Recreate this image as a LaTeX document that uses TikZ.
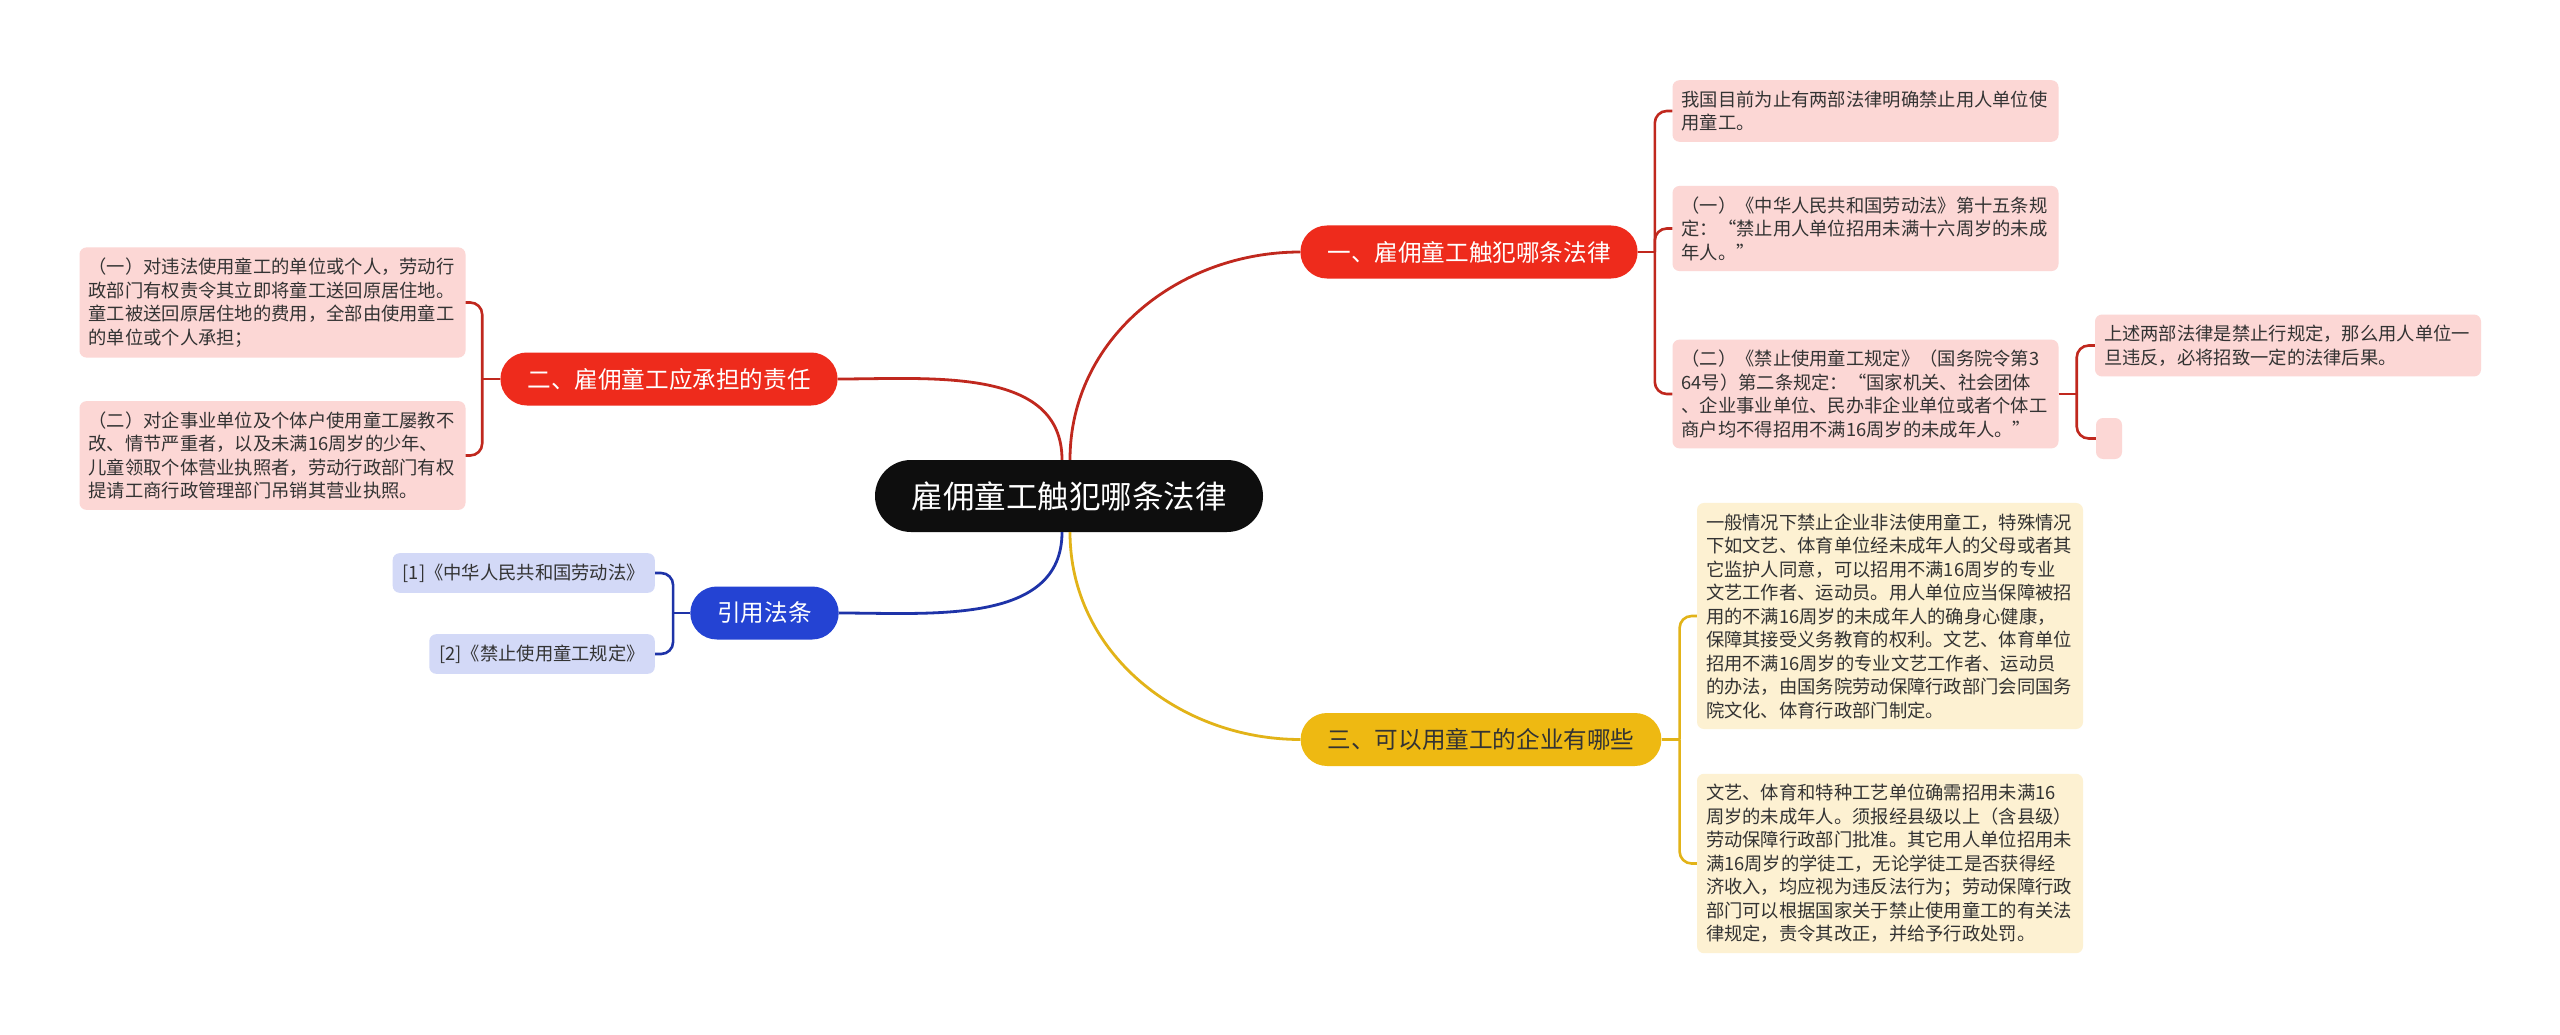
\documentclass[tikz,border=0pt]{standalone}
\usepackage{fontspec}
\setmainfont{Noto Sans CJK SC}
\definecolor{cblack}{HTML}{0E0E0E}
\definecolor{cred}{HTML}{EE2B1C}
\definecolor{credline}{HTML}{C0281E}
\definecolor{cpink}{HTML}{FCD7D5}
\definecolor{cblue}{HTML}{2443D3}
\definecolor{cblueline}{HTML}{1E33A8}
\definecolor{clav}{HTML}{D3D9F7}
\definecolor{cyellow}{HTML}{EEB912}
\definecolor{cyelline}{HTML}{E2B318}
\definecolor{ccream}{HTML}{FDF1D2}
\definecolor{ctext}{HTML}{333333}
\tikzset{
  root/.style={fill=cblack, text=white, rounded corners=36pt, minimum width=388pt, minimum height=72pt,
    font=\fontsize{31.5}{36}\selectfont},
  topic/.style={fill=#1, rounded corners=26.5pt, minimum height=53pt, inner xsep=27pt,
    font=\fontsize{23.6}{28}\selectfont},
  leaf/.style={fill=#1, rounded corners=7pt, inner xsep=10pt, inner ysep=10.5pt, text=ctext,
    font=\fontsize{18.3}{23.5}\selectfont},
  para/.style={leaf=#1, text width=368pt, inner xsep=9pt, align=left},
  link/.style={draw=#1, line width=2.8pt},
  brace/.style={draw=#1, line width=2.6pt, rounded corners=12pt},
}

\begin{document}
\begin{tikzpicture}[x=1pt, y=1pt]
  \fill[white] (0,0) rectangle (2560,-1035);
  \useasboundingbox (0,0) rectangle (2560,-1035);
  % root
  \node[root] (root) at (1069,-496) {雇佣童工触犯哪条法律};
  % branch 1
  \node[topic=cred, text=white] (b1) at (1469,-252) {一、雇佣童工触犯哪条法律};
  \node[para=cpink] (l1a) at (1865.5,-111) {我国目前为止有两部法律明确禁止用人单位使\\用童工。};
  \node[para=cpink] (l1b) at (1865.5,-228.5) {（一）《中华人民共和国劳动法》第十五条规\\定：“禁止用人单位招用未满十六周岁的未成\\年人。”};
  \node[para=cpink] (l1c) at (1865.5,-394) {（二）《禁止使用童工规定》（国务院令第3\\64号）第二条规定：“国家机关、社会团体\\、企业事业单位、民办非企业单位或者个体工\\商户均不得招用不满16周岁的未成年人。”};
  \node[para=cpink] (l1d) at (2288,-345.5) {上述两部法律是禁止行规定，那么用人单位一\\旦违反，必将招致一定的法律后果。};
  \node[leaf=cpink, minimum width=26pt, minimum height=41pt, inner sep=0pt] (l1e) at (2109,-438.5) {};
  % branch 2
  \node[topic=cred, text=white] (b2) at (669,-379) {二、雇佣童工应承担的责任};
  \node[para=cpink] (l2a) at (272.5,-302.5) {（一）对违法使用童工的单位或个人，劳动行\\政部门有权责令其立即将童工送回原居住地。\\童工被送回原居住地的费用，全部由使用童工\\的单位或个人承担；};
  \node[para=cpink] (l2b) at (272.5,-455.5) {（二）对企事业单位及个体户使用童工屡教不\\改、情节严重者，以及未满16周岁的少年、\\儿童领取个体营业执照者，劳动行政部门有权\\提请工商行政管理部门吊销其营业执照。};
  % branch 3
  \node[topic=cblue, text=white] (b3) at (764.5,-613) {引用法条};
  \node[leaf=clav, anchor=east] (l3a) at (655,-573) {[1]《中华人民共和国劳动法》};
  \node[leaf=clav, anchor=east] (l3b) at (655,-654) {[2]《禁止使用童工规定》};
  % branch 4
  \node[topic=cyellow, text=ctext] (b4) at (1481,-739.5) {三、可以用童工的企业有哪些};
  \node[para=ccream] (l4a) at (1890,-616) {一般情况下禁止企业非法使用童工，特殊情况\\下如文艺、体育单位经未成年人的父母或者其\\它监护人同意，可以招用不满16周岁的专业\\文艺工作者、运动员。用人单位应当保障被招\\用的不满16周岁的未成年人的确身心健康，\\保障其接受义务教育的权利。文艺、体育单位\\招用不满16周岁的专业文艺工作者、运动员\\的办法，由国务院劳动保障行政部门会同国务\\院文化、体育行政部门制定。};
  \node[para=ccream] (l4b) at (1890,-863.5) {文艺、体育和特种工艺单位确需招用未满16\\周岁的未成年人。须报经县级以上（含县级）\\劳动保障行政部门批准。其它用人单位招用未\\满16周岁的学徒工，无论学徒工是否获得经\\济收入，均应视为违反法行为；劳动保障行政\\部门可以根据国家关于禁止使用童工的有关法\\律规定，责令其改正，并给予行政处罚。};
  % root links
  \draw[link=credline] ([xshift=1pt]root.north) to[out=90,in=180] (b1.west);
  \draw[link=credline] ([xshift=-7pt]root.north) to[out=90,in=0] (b2.east);
  \draw[link=cblueline] ([xshift=-7pt]root.south) to[out=-90,in=0] (b3.east);
  \draw[link=cyelline] ([xshift=1pt]root.south) to[out=-90,in=180] (b4.west);
  % braces
  \draw[link=credline] (b1.east) -- ++(17,0) coordinate (j1);
  \foreach \n in {l1a,l1b,l1c} \draw[brace=credline] (j1) |- (\n.west);
  \draw[link=credline] (l1c.east) -- ++(18,0) coordinate (j1c);
  \foreach \n in {l1d,l1e} \draw[brace=credline] (j1c) |- (\n.west);
  \draw[link=credline] (b2.west) -- ++(-18,0) coordinate (j2);
  \foreach \n in {l2a,l2b} \draw[brace=credline] (j2) |- (\n.east);
  \draw[link=cblueline] (b3.west) -- ++(-17,0) coordinate (j3);
  \foreach \n in {l3a,l3b} \draw[brace=cblueline] (j3) |- (\n.east);
  \draw[link=cyelline] (b4.east) -- ++(18,0) coordinate (j4);
  \foreach \n in {l4a,l4b} \draw[brace=cyelline] (j4) |- (\n.west);
\end{tikzpicture}
\end{document}
